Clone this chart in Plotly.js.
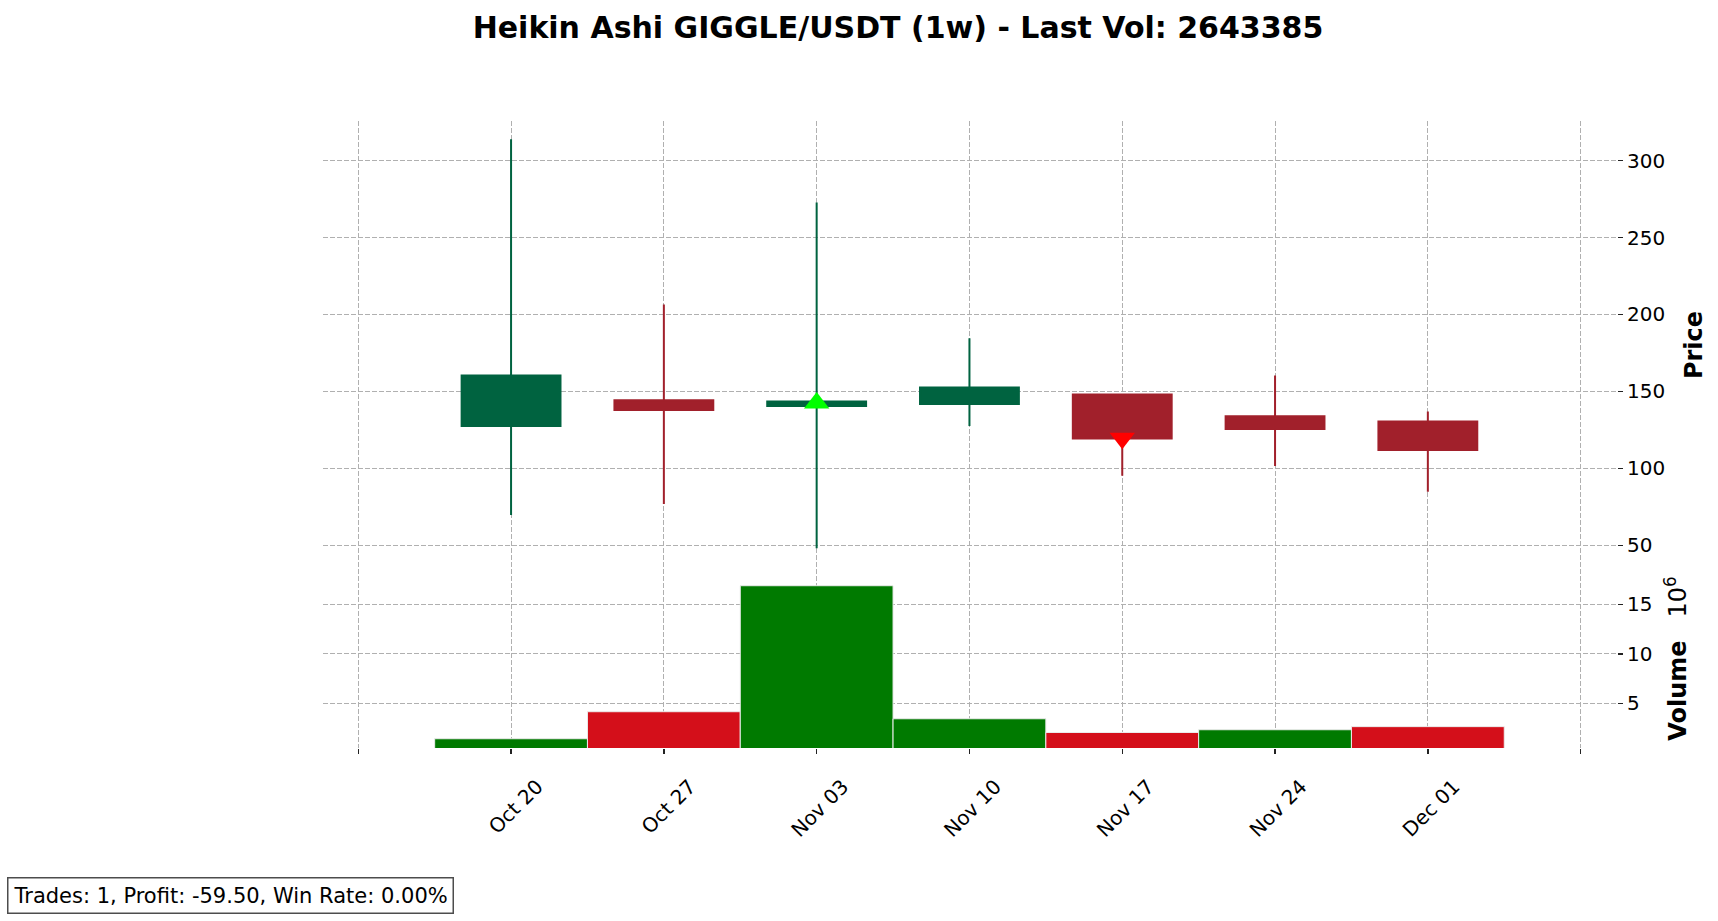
<!DOCTYPE html>
<html>
<head>
<meta charset="utf-8">
<script src="https://cdn.plot.ly/plotly-3.0.1.min.js"></script>
<style>
  html, body { margin: 0; padding: 0; background: #ffffff; }
  #chart { width: 1718px; height: 921px; }
</style>
</head>
<body>
<div id="chart"></div>
<script>
// ---- data ----
const weeks = ['2025-10-20', '2025-10-27', '2025-11-03', '2025-11-10', '2025-11-17', '2025-11-24', '2025-12-01'];
const haOpen  = [127.5, 144.2, 140.5, 141.8, 148.0, 133.8, 130.5];
const haHigh  = [313.8, 206.5, 272.7, 184.6, 148.0, 160.4, 137.0];
const haLow   = [69.7, 76.8, 48.0, 127.5, 95.2, 101.5, 84.8];
const haClose = [160.4, 137.9, 143.5, 152.6, 119.4, 125.5, 111.9];
const volumes = [1420000, 4150000, 16880000, 3440000, 2050000, 2330000, 2643385];
const volumeUp = [true, false, true, true, false, true, false];

const buyDates = ['2025-11-03'];
const buyPrices = [142.5];
const sellDates = ['2025-11-17'];
const sellPrices = [119.6];

const tickDates = ['2025-10-20', '2025-10-27', '2025-11-03', '2025-11-10', '2025-11-17', '2025-11-24', '2025-12-01'];
const tickLabels = ['Oct 20', 'Oct 27', 'Nov 03', 'Nov 10', 'Nov 17', 'Nov 24', 'Dec 01'];
const edgeTickDates = ['2025-10-13', '2025-12-08'];
const priceTicks = [50, 100, 150, 200, 250, 300];
const volumeTicks = [5000000, 10000000, 15000000];
const volumeTickLabels = ['5', '10', '15'];

const titleText = 'Heikin Ashi GIGGLE/USDT (1w) - Last Vol: 2643385';
const statsText = 'Trades: 1, Profit: -59.50, Win Rate: 0.00%';

// ---- styling ----
const FONT = 'DejaVu Sans';
const UP_BODY = '#006340';
const DOWN_BODY = '#a1202b';
const VOL_UP = '#007a00';
const VOL_DOWN = '#d40f1a';
const GRID = '#b0b0b0';
const WEEK_MS = 7 * 24 * 3600 * 1000;

const traces = [
  {
    type: 'candlestick',
    x: weeks, open: haOpen, high: haHigh, low: haLow, close: haClose,
    xaxis: 'x', yaxis: 'y2',
    increasing: { line: { color: UP_BODY, width: 2 }, fillcolor: UP_BODY },
    decreasing: { line: { color: DOWN_BODY, width: 2 }, fillcolor: DOWN_BODY },
    whiskerwidth: 0,
    showlegend: false, hoverinfo: 'skip'
  },
  {
    type: 'scatter', mode: 'markers',
    x: buyDates, y: buyPrices, xaxis: 'x', yaxis: 'y2',
    marker: { symbol: 'triangle-up', size: 22, color: '#00ff00' },
    showlegend: false, hoverinfo: 'skip'
  },
  {
    type: 'scatter', mode: 'markers',
    x: sellDates, y: sellPrices, xaxis: 'x', yaxis: 'y2',
    marker: { symbol: 'triangle-down', size: 22, color: '#ff0000' },
    showlegend: false, hoverinfo: 'skip'
  },
  {
    type: 'bar',
    x: weeks, y: volumes, xaxis: 'x', yaxis: 'y',
    width: WEEK_MS,
    marker: {
      color: volumeUp.map(u => u ? VOL_UP : VOL_DOWN),
      line: { color: 'rgba(235,235,235,1)', width: 1 }
    },
    showlegend: false, hoverinfo: 'skip'
  }
];

const gridStyle = {
  showgrid: true, gridcolor: GRID, gridwidth: 1, griddash: '5px,2px',
  zeroline: false, showline: false
};

const layout = {
  width: 1718, height: 921,
  paper_bgcolor: '#ffffff', plot_bgcolor: '#ffffff',
  margin: { l: 323, r: 101, t: 121, b: 173, pad: 0 },
  font: { family: FONT, color: '#000000', size: 20 },
  showlegend: false,
  boxgap: 0.353, boxgroupgap: 0,
  bargap: 0,
  title: {
    text: '<b>' + titleText + '</b>',
    font: { family: FONT, size: 30, color: '#000000' },
    xref: 'container', yref: 'container',
    x: 898 / 1718, xanchor: 'center',
    y: 1 - 27 / 921, yanchor: 'middle'
  },
  xaxis: Object.assign({}, gridStyle, {
    type: 'date',
    anchor: 'y',
    domain: [0, 1],
    range: ['2025-10-11 09:14', '2025-12-09 15:58'],
    tickmode: 'array', tickvals: tickDates, ticktext: tickLabels,
    ticks: 'outside', ticklen: 5, tickwidth: 1.5, tickcolor: '#222222',
    tickangle: -45,
    ticklabelshift: 26,
    ticklabelstandoff: 13,
    tickfont: { family: FONT, size: 20, color: '#000000' },
    minor: {
      tickmode: 'array', tickvals: edgeTickDates,
      ticks: 'outside', ticklen: 5, tickwidth: 1.5, tickcolor: '#222222',
      showgrid: true, gridcolor: GRID, gridwidth: 1, griddash: '5px,2px'
    },
    rangeslider: { visible: false },
    fixedrange: true
  }),
  yaxis2: Object.assign({}, gridStyle, {
    domain: [0.2855, 1],
    anchor: 'x',
    side: 'right',
    range: [34.6, 325.7],
    tickmode: 'array', tickvals: priceTicks,
    ticks: 'outside', ticklen: 5, tickwidth: 1.5, tickcolor: '#222222',
    tickfont: { family: FONT, size: 20, color: '#000000' },
    title: { text: '<b>Price</b>', standoff: 21, font: { family: FONT, size: 24, color: '#000000' } },
    fixedrange: true
  }),
  yaxis: Object.assign({}, gridStyle, {
    domain: [0, 0.2855],
    anchor: 'x',
    side: 'right',
    range: [485000, 18570000],
    tickmode: 'array', tickvals: volumeTicks, ticktext: volumeTickLabels,
    ticks: 'outside', ticklen: 5, tickwidth: 1.5, tickcolor: '#222222',
    tickfont: { family: FONT, size: 20, color: '#000000' },
    title: { text: '<b>Volume</b>\u00a0\u00a0\u00a010<sup>6</sup>', standoff: 17, font: { family: FONT, size: 24, color: '#000000' } },
    fixedrange: true
  }),
  annotations: [
    {
      xref: 'paper', yref: 'paper',
      x: (7 - 323) / 1294, y: (748 - 914.3) / 627,
      xanchor: 'left', yanchor: 'bottom',
      text: statsText, showarrow: false,
      font: { family: FONT, size: 21, color: '#000000' },
      bgcolor: '#ffffff', bordercolor: '#4d4d4d', borderwidth: 1.5, borderpad: 5
    }
  ]
};

Plotly.newPlot('chart', traces, layout, { staticPlot: true, displayModeBar: false });
</script>
</body>
</html>
